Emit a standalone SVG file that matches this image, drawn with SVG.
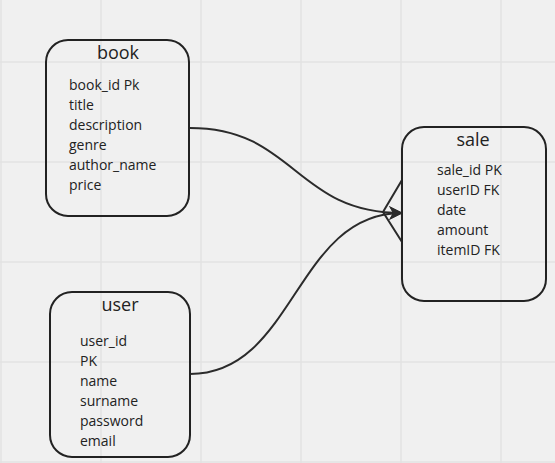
<svg xmlns="http://www.w3.org/2000/svg" width="555" height="463" viewBox="0 0 555 463">
<style>
.bg{fill:#f0f0f0}
.grid{stroke:#e2e2e2;stroke-width:1.5;fill:none}
.box{fill:none;stroke:#222;stroke-width:2}
.title{font-family:"Open Sans","Noto Sans",sans-serif;font-size:18px;fill:#222;text-anchor:middle}
.item{font-family:"Open Sans","Noto Sans",sans-serif;font-size:14px;fill:#222}
.conn{fill:none;stroke:#2b2b2b;stroke-width:2}
</style>
<defs>
<marker id="arr" markerWidth="14" markerHeight="14" refX="13" refY="7" orient="auto" markerUnits="userSpaceOnUse">
<path d="M0,0 L14,7 L0,14 L4,7 Z" fill="#2b2b2b"/>
</marker>
</defs>
<rect class="bg" x="0" y="0" width="555" height="463"/>
<g id="grid">
<path class="grid" d="M1,0V463M101,0V463M201,0V463M301,0V463M401,0V463M501,0V463M0,62H555M0,162H555M0,262H555M0,362H555M0,462H555"/>
</g>
<g id="connectors">
<path class="conn" d="M190,128 C295,128 295,213 402,213" marker-end="url(#arr)"/>
<path class="conn" d="M190,374 C295,374 295,213 402,213" marker-end="url(#arr)"/>
<path class="conn" d="M402,180 L383,212 L402,242"/>
</g>
<g id="book">
<rect class="box" x="46" y="40" width="143" height="176" rx="22"/>
<text class="title" x="118" y="59">book</text>
<text class="item" x="69" y="90">book_id Pk</text>
<text class="item" x="69" y="110">title</text>
<text class="item" x="69" y="130">description</text>
<text class="item" x="69" y="150">genre</text>
<text class="item" x="69" y="170">author_name</text>
<text class="item" x="69" y="190">price</text>
</g>
<g id="sale">
<rect class="box" x="402" y="127" width="144" height="174" rx="22"/>
<text class="title" x="473" y="146">sale</text>
<text class="item" x="437" y="175">sale_id PK</text>
<text class="item" x="437" y="195">userID FK</text>
<text class="item" x="437" y="215">date</text>
<text class="item" x="437" y="235">amount</text>
<text class="item" x="437" y="255">itemID FK</text>
</g>
<g id="user">
<rect class="box" x="50" y="292" width="140" height="165" rx="22"/>
<text class="title" x="120" y="311">user</text>
<text class="item" x="80" y="346">user_id</text>
<text class="item" x="80" y="366">PK</text>
<text class="item" x="80" y="386">name</text>
<text class="item" x="80" y="406">surname</text>
<text class="item" x="80" y="426">password</text>
<text class="item" x="80" y="446">email</text>
</g>
</svg>
